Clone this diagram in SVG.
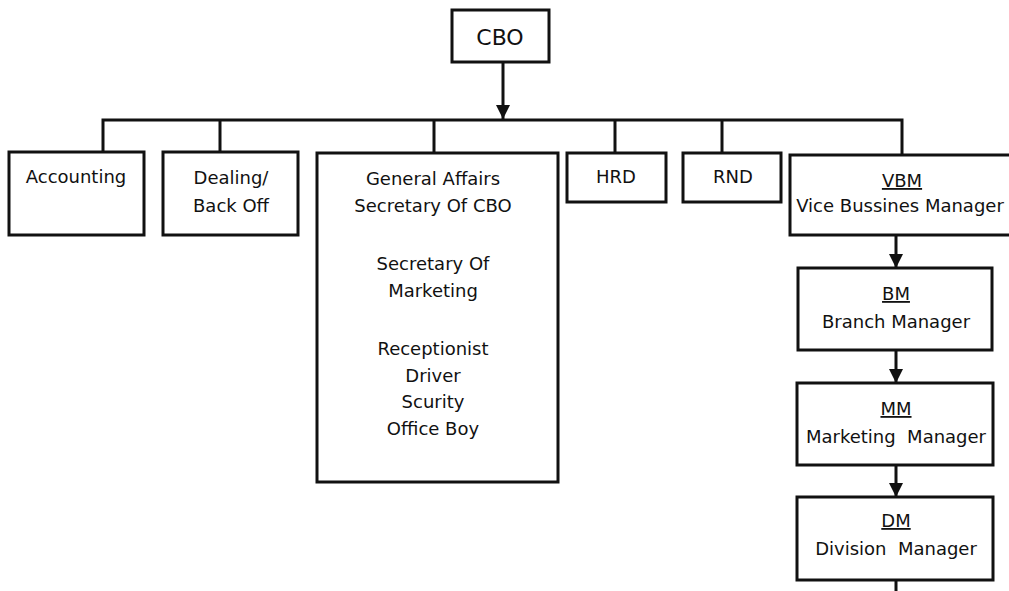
<svg xmlns="http://www.w3.org/2000/svg" width="1009" height="591" viewBox="0 0 1009 591">
<style>
.box{fill:#fff;stroke:#111;stroke-width:3}
.ln{fill:none;stroke:#111;stroke-width:3}
text{font-family:"DejaVu Sans",Verdana,sans-serif;font-size:18px;fill:#111;text-anchor:middle;white-space:pre}
.u{text-decoration:underline}
</style>
<defs>
<marker id="ah" viewBox="0 0 14 14" refX="14" refY="7" markerWidth="14" markerHeight="14" markerUnits="userSpaceOnUse" orient="auto">
<path d="M0,0 L14,7 L0,14 Z" fill="#111"/>
</marker>
</defs>
<rect width="1009" height="591" fill="#fff"/>
<g id="connectors">
<line class="ln" x1="503" y1="62" x2="503" y2="119" marker-end="url(#ah)"/>
<polyline class="ln" points="103,152 103,120 902,120 902,155"/>
<line class="ln" x1="220" y1="120" x2="220" y2="152"/>
<line class="ln" x1="434" y1="120" x2="434" y2="153"/>
<line class="ln" x1="615" y1="120" x2="615" y2="153"/>
<line class="ln" x1="722" y1="120" x2="722" y2="153"/>
<line class="ln" x1="896" y1="235" x2="896" y2="268" marker-end="url(#ah)"/>
<line class="ln" x1="896" y1="350" x2="896" y2="383" marker-end="url(#ah)"/>
<line class="ln" x1="896" y1="465" x2="896" y2="497" marker-end="url(#ah)"/>
<line class="ln" x1="896" y1="580" x2="896" y2="591"/>
</g>
<g id="cbo"><rect class="box" x="452" y="10" width="97" height="52"/><text x="500" y="45" style="font-size:22px">CBO</text></g>
<g id="accounting"><rect class="box" x="9" y="152" width="135" height="83"/><text x="76" y="183">Accounting</text></g>
<g id="dealing"><rect class="box" x="163" y="152" width="135" height="83"/><text x="231" y="184">Dealing/</text><text x="231" y="212">Back Off</text></g>
<g id="general"><rect class="box" x="317" y="153" width="241" height="329"/>
<text x="433" y="185">General Affairs</text><text x="433" y="212">Secretary Of CBO</text>
<text x="433" y="270">Secretary Of</text><text x="433" y="297">Marketing</text>
<text x="433" y="355">Receptionist</text><text x="433" y="382">Driver</text><text x="433" y="408">Scurity</text><text x="433" y="435">Office Boy</text></g>
<g id="hrd"><rect class="box" x="567" y="153" width="99" height="49"/><text x="616" y="183">HRD</text></g>
<g id="rnd"><rect class="box" x="683" y="153" width="98" height="49"/><text x="733" y="183">RND</text></g>
<g id="vbm"><rect class="box" x="790" y="155" width="224" height="80"/><text x="902" y="187" class="u">VBM</text><text x="900" y="212">Vice Bussines Manager</text></g>
<g id="bm"><rect class="box" x="798" y="268" width="194" height="82"/><text x="896" y="300" class="u">BM</text><text x="896" y="328">Branch Manager</text></g>
<g id="mm"><rect class="box" x="797" y="383" width="196" height="82"/><text x="896" y="415" class="u">MM</text><text x="896" y="443">Marketing  Manager</text></g>
<g id="dm"><rect class="box" x="797" y="497" width="196" height="83"/><text x="896" y="527" class="u">DM</text><text x="896" y="555">Division  Manager</text></g>
</svg>
